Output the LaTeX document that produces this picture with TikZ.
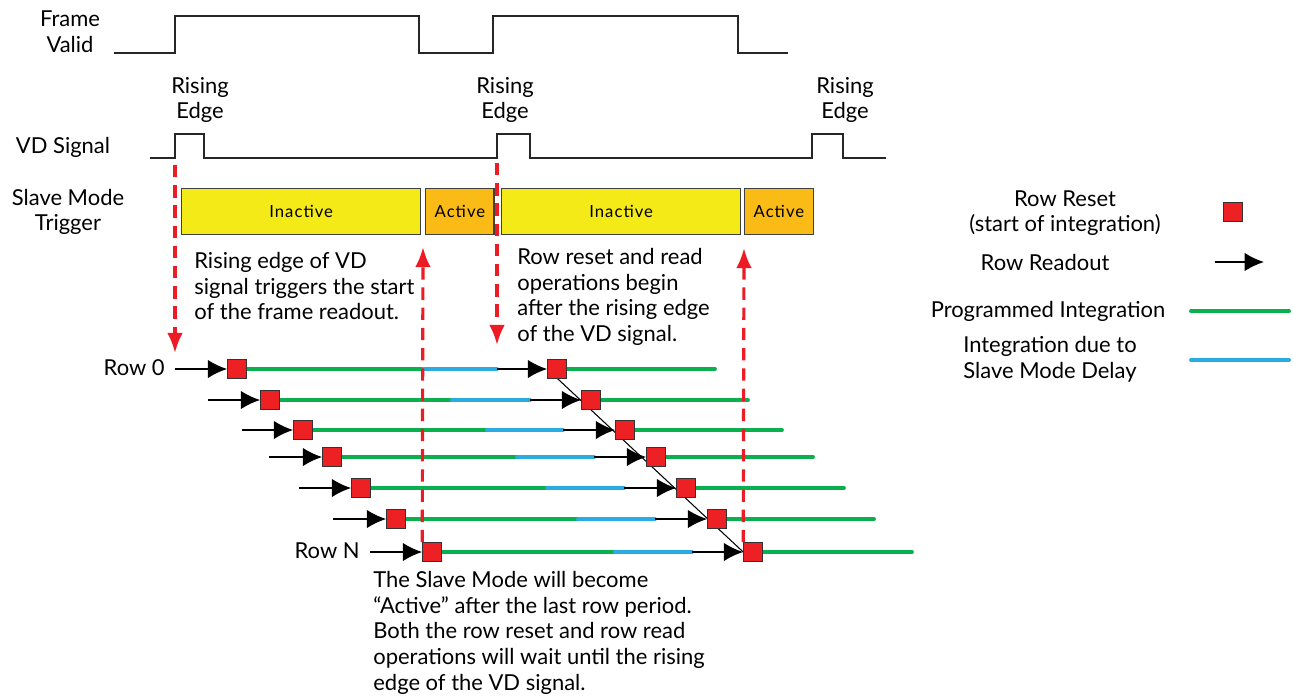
\documentclass[tikz,border=0pt]{standalone}
\usepackage{fontspec}
\setmainfont{Lato}
\usepackage{tikz}
\usetikzlibrary{arrows.meta,positioning,calc,backgrounds}
\definecolor{trigred}{RGB}{237,28,36}
\definecolor{sqred}{RGB}{237,32,36}
\definecolor{boxyellow}{RGB}{244,234,24}
\definecolor{boxorange}{RGB}{251,187,22}
\definecolor{intgreen}{RGB}{10,176,78}
\definecolor{delayblue}{RGB}{42,172,226}
\tikzset{
  % Base styles
  timing base/.style={
    x=0.02cm, y=-0.02cm,
    every node/.style={font=\fontsize{12.5}{14.6}\selectfont},
  },
  signal line/.style={line width=1.1pt, black!85},
  label node/.style={align=center, inner sep=0pt},
  note node/.style={align=left, inner sep=0pt, anchor=north west},
  % Slave mode boxes
  inactive box/.style={rectangle, draw=black!75, line width=0.8pt, fill=boxyellow, minimum width=4.78cm, minimum height=0.92cm, inner sep=0pt, anchor=north west, font=\fontsize{9.5}{10}\selectfont\addfontfeature{LetterSpace=6}},
  active box/.style={inactive box, fill=boxorange, minimum width=1.37cm},
  % Row timing
  reset node/.style={rectangle, draw=black!80, line width=0.6pt, fill=sqred, minimum size=0.37cm, inner sep=0pt},
  readout/.style={-{Latex[length=11pt,width=10.5pt]}, line width=1.1pt, black},
  prog int/.style={line width=2.2pt, intgreen, line cap=round},
  slave delay/.style={line width=2.2pt, delayblue, line cap=round},
  trigger/.style={-{Latex[length=11.5pt,width=9pt]}, line width=1.8pt, trigred, dash pattern=on 7pt off 4.5pt},
}

\begin{document}
\begin{tikzpicture}[timing base]
\useasboundingbox (0,0) rectangle (1293,698);

% Frame valid and VD signal
\node[label node] (fvlbl) at (70,32) {Frame\\Valid};
\draw[signal line] (114,53) -- (175,53) -- (175,16) -- (419,16) -- (419,53) -- (493,53) -- (493,16) -- (738,16) -- (738,53) -- (788,53);
\node[label node] (vdlbl) at (63,147) {VD Signal};
\draw[signal line] (150,158) -- (175,158) -- (175,134) -- (204,134) -- (204,158) -- (497,158) -- (497,134) -- (530,134) -- (530,158) -- (812,158) -- (812,134) -- (843,134) -- (843,158) -- (886,158);
\node[label node] (edge1) at (200,100) {Rising\\Edge};
\node[label node] (edge2) at (505,100) {Rising\\Edge};
\node[label node] (edge3) at (845,100) {Rising\\Edge};

% Slave mode trigger
\node[label node] (smlbl) at (68,212) {Slave Mode\\Trigger};
\node[inactive box] (ina1) at (181,188) {Inactive};
\node[active box] (act1) at (425,188) {Active};
\node[inactive box] (ina2) at (501,188) {Inactive};
\node[active box] (act2) at (744,188) {Active};

% Rows: name/y/arrow start/reset 1/green end/blue end/reset 2/line end
\foreach \r/\y/\a/\p/\g/\b/\q/\e in {
    0/369/175/237/423/497/557/715,
    1/400/208/270/452/530/591/748,
    2/430/242/303/487/563/625/782,
    3/457/269/332/517/594/656/813,
    4/488/299/361/547/624/686/844,
    5/519/333/396/578/655/717/874,
    N/552/370/432/615/692/753/912} {
  \node[reset node] (p\r) at (\p,\y) {};
  \node[reset node] (q\r) at (\q,\y) {};
  \coordinate (a\r) at (\a,\y);
  \coordinate (g\r) at (\g,\y);
  \coordinate (b\r) at (\b,\y);
  \coordinate (e\r) at (\e,\y);
  \begin{scope}[on background layer]
    \draw[readout] (a\r) -- (p\r.west);
    \draw[prog int] (p\r.east) -- (g\r);
    \draw[slave delay] (g\r) -- (b\r);
    \draw[readout] (b\r) -- (q\r.west);
    \draw[prog int] (q\r.east) -- (e\r);
  \end{scope}
}
\begin{scope}[on background layer]
  \draw[line width=0.6pt] (q0.west) -- (qN.west);
\end{scope}
\node[label node, anchor=east] (row0) at (165,368) {Row 0};
\node[label node, anchor=east] (rowN) at (360,551) {Row N};

% Trigger arrows
\coordinate (vd1) at (175,165);
\coordinate (vd1end) at (175,353);
\coordinate (vd2) at (497,163);
\coordinate (vd2end) at (497,345);
\coordinate (act1in) at (423,247);
\coordinate (act2in) at (744,248);
\draw[trigger] (vd1) -- (vd1end);
\draw[trigger] (vd2) -- (vd2end);
\draw[trigger] (pN.north west) -- (act1in);
\draw[trigger] (qN.north west) -- (act2in);

% Notes
\node[note node] (note1) at (194,252) {Rising edge of VD\\signal triggers the start\\of the frame readout.};
\node[note node] (note2) at (517,248) {Row reset and read\\operations begin\\after the rising edge\\of the VD signal.};
\node[note node] (note3) at (373,571) {The Slave Mode will become\\“Active” after the last row period.\\Both the row reset and row read\\operations will wait until the rising\\edge of the VD signal.};

% Legend
\node[label node] (lgreset) at (1065,213) {Row Reset\\(start of integration)};
\node[reset node] (lgsq) at (1233,212) {};
\node[label node] (lgread) at (1045,262) {Row Readout};
\coordinate (lgra) at (1215,262);
\coordinate (lgrb) at (1264,262);
\draw[readout] (lgra) -- (lgrb);
\node[label node] (lgprog) at (1048,311) {Programmed Integration};
\coordinate (lgpa) at (1191,311);
\coordinate (lgpb) at (1289,311);
\draw[prog int] (lgpa) -- (lgpb);
\node[label node] (lgdelay) at (1050,359) {Integration due to\\Slave Mode Delay};
\coordinate (lgda) at (1191,360);
\coordinate (lgdb) at (1289,360);
\draw[slave delay] (lgda) -- (lgdb);
\end{tikzpicture}
\end{document}
